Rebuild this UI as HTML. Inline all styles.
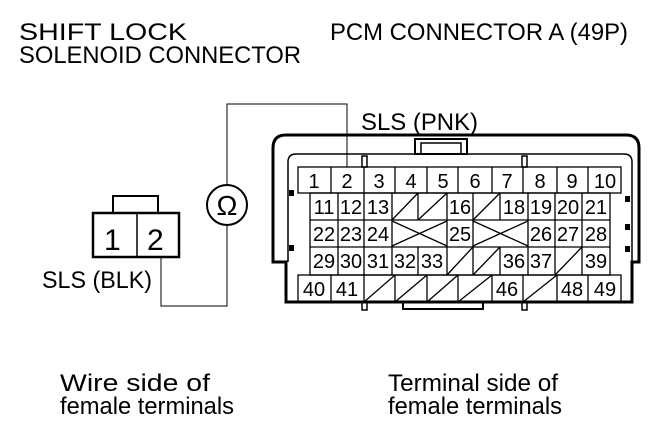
<!DOCTYPE html>
<html><head><style>body{margin:0;background:#fff}svg{display:block}text{font-family:"Liberation Sans",sans-serif;fill:#000}</style></head><body>
<svg width="662" height="430" viewBox="0 0 662 430" xmlns="http://www.w3.org/2000/svg">
<g font-size="24.5">
<text x="19" y="40" textLength="168" lengthAdjust="spacingAndGlyphs">SHIFT LOCK</text>
<text x="19" y="63" textLength="282" lengthAdjust="spacingAndGlyphs">SOLENOID CONNECTOR</text>
<text x="330" y="40" textLength="298" lengthAdjust="spacingAndGlyphs">PCM CONNECTOR A (49P)</text>
<text x="361" y="130" textLength="117" lengthAdjust="spacingAndGlyphs">SLS (PNK)</text>
<text x="42" y="288" textLength="110" lengthAdjust="spacingAndGlyphs">SLS (BLK)</text>
<text x="60" y="391" textLength="150" lengthAdjust="spacingAndGlyphs">Wire side of</text>
<text x="60" y="414" textLength="174" lengthAdjust="spacingAndGlyphs">female terminals</text>
<text x="388" y="391" textLength="170" lengthAdjust="spacingAndGlyphs">Terminal side of</text>
<text x="388" y="414" textLength="174" lengthAdjust="spacingAndGlyphs">female terminals</text>
</g>
<g fill="none" stroke="#000">
<rect x="113" y="196" width="45" height="17" stroke-width="2"/>
<rect x="93" y="213" width="86" height="44" stroke-width="2.5"/>
<line x1="137" y1="213" x2="137" y2="257" stroke-width="1.5"/>
<polyline points="161,257 161,306 227,306 227,225" stroke-width="1"/>
<polyline points="227,185 227,104 347,104 347,167" stroke-width="1"/>
<circle cx="227" cy="205" r="20" stroke-width="2"/>
</g>
<text x="104" y="250" font-size="30">1</text>
<text x="147" y="250" font-size="30">2</text>
<text x="227" y="215" font-size="28" text-anchor="middle">Ω</text>
<g fill="none" stroke="#000">
<path d="M286,302 L286,262 L273,262 L273,148 Q273,135 286,135 L626,135 Q639,135 639,148 L639,262 L632,262 L632,302 Z" stroke-width="3"/>
<path d="M288,262 L288,162 Q288,154 296,154 L624,154 Q632,154 632,162 L632,262" stroke-width="1.5"/>
<rect x="415" y="139" width="52" height="15" stroke-width="2" fill="#fff"/>
<rect x="421" y="143" width="40" height="11" stroke-width="1.5"/>
<rect x="362" y="156" width="5" height="11" stroke-width="1.5"/>
<rect x="522" y="156" width="5" height="11" stroke-width="1.5"/>
<rect x="362" y="302" width="5" height="8" stroke-width="1.5"/>
<rect x="522" y="302" width="5" height="8" stroke-width="1.5"/>
<polyline points="403,302 403,309 483,309 483,302" stroke-width="2"/>
</g>
<g fill="#000"><rect x="289" y="190" width="5" height="6"/><rect x="289" y="245" width="5" height="6"/><rect x="625" y="196" width="5" height="6"/><rect x="625" y="224" width="5" height="6"/><rect x="625" y="246" width="5" height="6"/></g>
<g fill="none" stroke="#000" stroke-width="1.3">
<rect x="298" y="167" width="323" height="26"/>
<rect x="310" y="193" width="300" height="82"/>
<rect x="298" y="275" width="323" height="27"/>
<line x1="310" y1="220" x2="610" y2="220"/><line x1="310" y1="247" x2="610" y2="247"/>
<path d="M331,167V193M364,167V193M395,167V193M427,167V193M458,167V193M492,167V193M523,167V193M557,167V193M588,167V193"/>
<path d="M331,275V302M364,275V302M395,275V302M427,275V302M458,275V302M492,275V302M523,275V302M557,275V302M588,275V302"/>
<path d="M338,193V275M364,193V275M392,193V275M418,193V220M418,247V275M447,193V275M473,193V275M500,193V220M500,247V275M528,193V275M555,193V275M582,193V275"/>
<path d="M392,220L418,193M418,220L447,193M473,220L500,193"/>
<path d="M392,221L447,246M392,246L447,221M473,221L528,246M473,246L528,221"/>
<path d="M447,275L473,247M473,275L500,247M555,275L582,247"/>
<path d="M364,302L395,275M395,302L427,275M427,302L458,275M458,302L492,275M523,302L557,275"/>
</g>
<g font-size="20" text-anchor="middle">
<text x="314" y="188">1</text><text x="347" y="188">2</text><text x="379" y="188">3</text><text x="411" y="188">4</text><text x="443" y="188">5</text><text x="475" y="188">6</text><text x="507" y="188">7</text><text x="540" y="188">8</text><text x="572" y="188">9</text><text x="605" y="188">10</text>
<text x="324" y="214">11</text><text x="351" y="214">12</text><text x="378" y="214">13</text><text x="460" y="214">16</text><text x="514" y="214">18</text><text x="541" y="214">19</text><text x="568" y="214">20</text><text x="596" y="214">21</text>
<text x="324" y="241">22</text><text x="351" y="241">23</text><text x="378" y="241">24</text><text x="460" y="241">25</text><text x="541" y="241">26</text><text x="568" y="241">27</text><text x="596" y="241">28</text>
<text x="324" y="268">29</text><text x="351" y="268">30</text><text x="378" y="268">31</text><text x="405" y="268">32</text><text x="432" y="268">33</text><text x="514" y="268">36</text><text x="541" y="268">37</text><text x="596" y="268">39</text>
<text x="314" y="296">40</text><text x="347" y="296">41</text><text x="507" y="296">46</text><text x="572" y="296">48</text><text x="605" y="296">49</text>
</g>
</svg>
</body></html>
